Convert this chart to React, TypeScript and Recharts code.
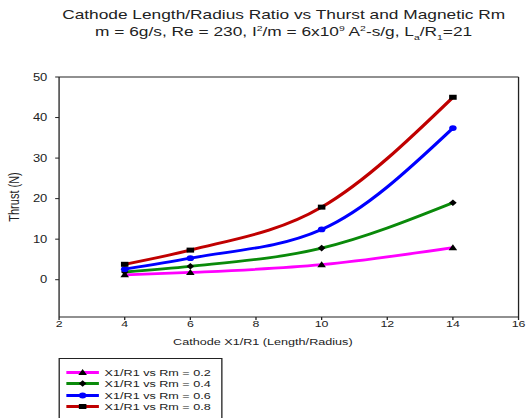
import React from 'react';
import { LineChart, Line, XAxis, YAxis, ReferenceLine } from 'recharts';

const xValues = [4, 6, 10, 14];
const rm02 = [1.2, 1.8, 3.7, 7.9];
const rm04 = [1.9, 3.3, 7.8, 19.0];
const rm06 = [2.6, 5.3, 12.4, 37.4];
const rm08 = [3.8, 7.3, 17.9, 45.0];
const xTicks = [2, 4, 6, 8, 10, 12, 14, 16];
const yTicks = [0, 10, 20, 30, 40, 50];
const seriesNames = [
  'X1/R1 vs Rm = 0.2',
  'X1/R1 vs Rm = 0.4',
  'X1/R1 vs Rm = 0.6',
  'X1/R1 vs Rm = 0.8',
];

const data = xValues.map((x, i) => ({ x, rm02: rm02[i], rm04: rm04[i], rm06: rm06[i], rm08: rm08[i] }));

type Shape = 'triangle' | 'diamond' | 'circle' | 'square';
const series: { key: string; name: string; color: string; shape: Shape; fill: string }[] = [
  { key: 'rm02', name: seriesNames[0], color: '#ff00ff', shape: 'triangle', fill: '#000' },
  { key: 'rm04', name: seriesNames[1], color: '#0a8a0a', shape: 'diamond', fill: '#000' },
  { key: 'rm06', name: seriesNames[2], color: '#0000ff', shape: 'circle', fill: '#0000ff' },
  { key: 'rm08', name: seriesNames[3], color: '#c00000', shape: 'square', fill: '#000' },
];

const FONT = '"Liberation Sans", Arial, Helvetica, sans-serif';
const W = 405;
const H = 418;
const SX = 527 / W;

function Marker({ cx, cy, shape, fill }: { cx: number; cy: number; shape: Shape; fill: string }) {
  if (cx == null || cy == null) return null;
  const s = 2.9;
  if (shape === 'triangle') {
    return <polygon points={`${cx},${cy - s - 0.6} ${cx - s - 0.4},${cy + s - 0.4} ${cx + s + 0.4},${cy + s - 0.4}`} fill={fill} />;
  }
  if (shape === 'diamond') {
    return <polygon points={`${cx},${cy - s - 0.4} ${cx + s},${cy} ${cx},${cy + s + 0.4} ${cx - s},${cy}`} fill={fill} />;
  }
  if (shape === 'circle') {
    return <circle cx={cx} cy={cy} r={s} fill={fill} />;
  }
  return <rect x={cx - s} y={cy - s + 0.4} width={s * 2} height={s * 2 - 0.8} fill={fill} />;
}

const sup: React.CSSProperties = { fontSize: '0.6em', verticalAlign: 'super', lineHeight: 0 };
const sub: React.CSSProperties = { fontSize: '0.6em', verticalAlign: 'sub', lineHeight: 0 };

export default function App() {
  return (
    <div
      style={{
        position: 'absolute',
        left: 0,
        top: 0,
        width: W,
        height: H,
        transform: `scaleX(${SX})`,
        transformOrigin: '0 0',
        background: '#fff',
        fontFamily: FONT,
        color: '#222',
      }}
    >
      <div
        style={{
          position: 'absolute',
          left: 0,
          top: 6,
          width: 436,
          textAlign: 'center',
          fontSize: 13.3,
          lineHeight: '17px',
        }}
      >
        <div>Cathode Length/Radius Ratio vs Thurst and Magnetic Rm</div>
        <div>
          m = 6g/s, Re = 230, I<span style={sup}>2</span>/m = 6x10<span style={sup}>9</span> A
          <span style={sup}>2</span>-s/g, L<span style={sub}>a</span>/R<span style={sub}>1</span>=21
        </div>
      </div>
      <LineChart width={W} height={H} data={data} margin={{ top: 77, right: 6.5, bottom: 71, left: 0 }}>
        <XAxis
          dataKey="x"
          type="number"
          domain={[2, 16]}
          ticks={xTicks}
          allowDataOverflow
          stroke="#222"
          tickSize={3}
          tickMargin={0}
          height={30}
          tick={{ fontSize: 9.5, fill: '#222', fontFamily: FONT }}
          label={{
            content: () => (
              <text x={202} y={345} textAnchor="middle" fontSize={9.7} fill="#222" fontFamily={FONT}>
                Cathode X1/R1 (Length/Radius)
              </text>
            ),
          }}
        />
        <YAxis
          type="number"
          domain={[-9.2, 50]}
          ticks={yTicks}
          allowDataOverflow
          stroke="#222"
          tickSize={3}
          tickMargin={6}
          width={45.4}
          tick={{ fontSize: 10, fill: '#222', fontFamily: FONT }}
          label={{
            content: () => (
              <text
                x={11.5}
                y={197}
                transform="rotate(-90 11.5 197)"
                textAnchor="middle"
                dominantBaseline="middle"
                fontSize={11}
                fill="#222"
                fontFamily={FONT}
              >
                Thrust (N)
              </text>
            ),
          }}
        />
        <ReferenceLine y={50} stroke="#222" />
        <ReferenceLine x={16} stroke="#222" />
        {series.map((s) => (
          <Line
            key={s.key}
            dataKey={s.key}
            name={s.name}
            type="monotone"
            stroke={s.color}
            strokeWidth={2.8}
            isAnimationActive={false}
            dot={(p: any) => <Marker key={`${s.key}-${p.index}`} cx={p.cx} cy={p.cy} shape={s.shape} fill={s.fill} />}
            activeDot={false}
          />
        ))}
      </LineChart>
      <div
        style={{
          position: 'absolute',
          left: 45.4,
          top: 358,
          width: 126,
          height: 80,
          border: '1px solid #222',
          boxSizing: 'border-box',
        }}
      >
        {series.map((s, i) => (
          <div key={s.key} style={{ position: 'absolute', left: 0, top: 8 + i * 11.4, height: 11, width: 126 }}>
            <svg width={30} height={11} style={{ position: 'absolute', left: 4, top: 0 }}>
              <line x1={1} y1={5.5} x2={26} y2={5.5} stroke={s.color} strokeWidth={2.8} />
              <Marker cx={13.5} cy={5.5} shape={s.shape} fill={s.fill} />
            </svg>
            <span
              style={{
                position: 'absolute',
                left: 34,
                top: 0,
                fontSize: 9.7,
                lineHeight: '11px',
                whiteSpace: 'nowrap',
              }}
            >
              {s.name}
            </span>
          </div>
        ))}
      </div>
    </div>
  );
}
